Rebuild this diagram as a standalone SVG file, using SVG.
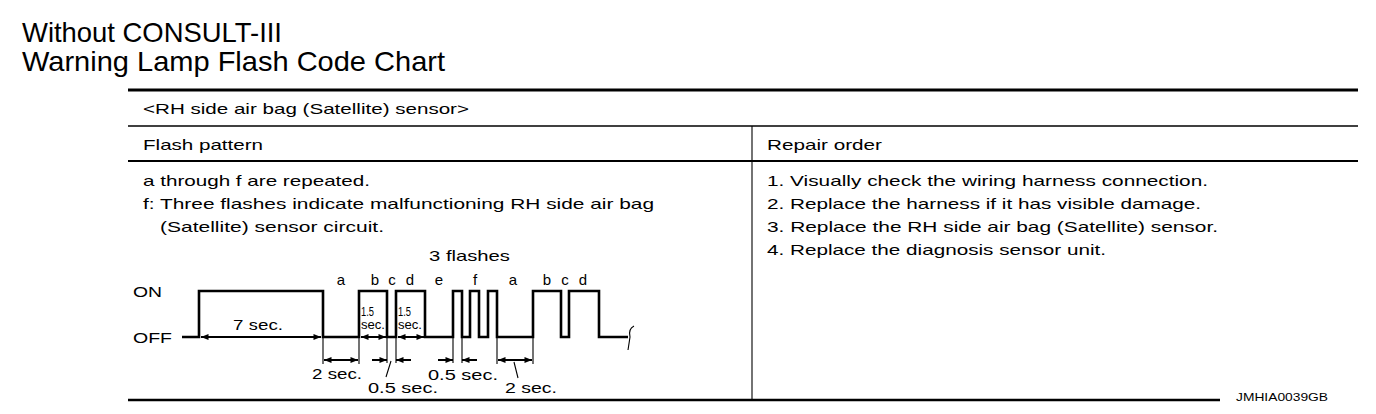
<svg xmlns="http://www.w3.org/2000/svg" width="1376" height="414" viewBox="0 0 1376 414">
<defs>
<style>
text{font-family:"Liberation Sans",Arial,Helvetica,sans-serif;fill:#000}
.title{font-size:28px}
.t{font-size:15px}
.s{font-size:11px}
.b{font-size:13px}
.rule{stroke:#000;fill:none}
.wave{stroke:#000;stroke-width:2.6;fill:none;stroke-linejoin:miter}
.ext{stroke:#000;stroke-width:1.1;fill:none}
.dim{stroke:#000;stroke-width:2;fill:none;marker-start:url(#as);marker-end:url(#ah)}
.dim1{stroke:#000;stroke-width:2;fill:none;marker-end:url(#ah)}
</style>
<marker id="ah" viewBox="0 0 10 8" refX="10" refY="4" markerWidth="9" markerHeight="6" markerUnits="userSpaceOnUse" orient="auto">
<path d="M0,0 L10,4 L0,8 Z" fill="#000"/>
</marker>
<marker id="as" viewBox="0 0 10 8" refX="0" refY="4" markerWidth="9" markerHeight="6" markerUnits="userSpaceOnUse" orient="auto">
<path d="M10,0 L0,4 L10,8 Z" fill="#000"/>
</marker>
</defs>
<rect width="1376" height="414" fill="#fff"/>

<g id="title">
<text class="title" x="22" y="42" textLength="260" lengthAdjust="spacingAndGlyphs">Without CONSULT-III</text>
<text class="title" x="22" y="71" textLength="423" lengthAdjust="spacingAndGlyphs">Warning Lamp Flash Code Chart</text>
</g>

<g id="table">
<line class="rule" x1="128" y1="90" x2="1358" y2="90" stroke-width="2.8"/>
<line class="rule" x1="128" y1="126" x2="1358" y2="126" stroke-width="1.3"/>
<line class="rule" x1="128" y1="161" x2="1358" y2="161" stroke-width="2.2"/>
<line class="rule" x1="752" y1="126" x2="752" y2="400" stroke-width="1.1"/>
<line class="rule" x1="128" y1="400" x2="1220" y2="400" stroke-width="2.6"/>
</g>

<g id="table-text">
<text class="t" x="143" y="114" textLength="326" lengthAdjust="spacingAndGlyphs">&lt;RH side air bag (Satellite) sensor&gt;</text>
<text class="t" x="143" y="150" textLength="120" lengthAdjust="spacingAndGlyphs">Flash pattern</text>
<text class="t" x="767" y="150" textLength="115" lengthAdjust="spacingAndGlyphs">Repair order</text>
<text class="t" x="143" y="186" textLength="227" lengthAdjust="spacingAndGlyphs">a through f are repeated.</text>
<text class="t" x="143" y="209" textLength="511" lengthAdjust="spacingAndGlyphs">f: Three flashes indicate malfunctioning RH side air bag</text>
<text class="t" x="160" y="232" textLength="224" lengthAdjust="spacingAndGlyphs">(Satellite) sensor circuit.</text>
<text class="t" x="767" y="186" textLength="441" lengthAdjust="spacingAndGlyphs">1. Visually check the wiring harness connection.</text>
<text class="t" x="767" y="209" textLength="434" lengthAdjust="spacingAndGlyphs">2. Replace the harness if it has visible damage.</text>
<text class="t" x="767" y="232" textLength="451" lengthAdjust="spacingAndGlyphs">3. Replace the RH side air bag (Satellite) sensor.</text>
<text class="t" x="767" y="255" textLength="339" lengthAdjust="spacingAndGlyphs">4. Replace the diagnosis sensor unit.</text>
<text class="s" x="1236" y="401" textLength="92" lengthAdjust="spacingAndGlyphs">JMHIA0039GB</text>
</g>

<g id="waveform">
<text class="t" x="133" y="297" textLength="29" lengthAdjust="spacingAndGlyphs">ON</text>
<text class="t" x="133" y="343" textLength="39" lengthAdjust="spacingAndGlyphs">OFF</text>
<text class="t" x="429" y="261" textLength="81" lengthAdjust="spacingAndGlyphs">3 flashes</text>
<g text-anchor="middle">
<text class="t" x="341" y="285">a</text>
<text class="t" x="375" y="285">b</text>
<text class="t" x="392" y="285">c</text>
<text class="t" x="410" y="285">d</text>
<text class="t" x="439" y="285">e</text>
<text class="t" x="475" y="285">f</text>
<text class="t" x="513" y="285">a</text>
<text class="t" x="547" y="285">b</text>
<text class="t" x="565" y="285">c</text>
<text class="t" x="583" y="285">d</text>
</g>
<path class="wave" d="M182,337 H199 V291 H323 V337 H359 V291 H387 V337 H396 V291 H425 V337 H453 V291 H462 V337 H470 V291 H479 V337 H488 V291 H497 V337 H533 V291 H561 V337 H569 V291 H599 V337 H628"/>
<path class="ext" stroke-width="1.8" d="M634,326 Q628,329 630,337 L628,350"/>
<text class="t" x="233" y="330" textLength="50" lengthAdjust="spacingAndGlyphs">7 sec.</text>
<text class="b" x="361" y="316" textLength="13" lengthAdjust="spacingAndGlyphs">1.5</text>
<text class="b" x="361" y="329" textLength="24" lengthAdjust="spacingAndGlyphs">sec.</text>
<text class="b" x="398" y="316" textLength="13" lengthAdjust="spacingAndGlyphs">1.5</text>
<text class="b" x="398" y="329" textLength="24" lengthAdjust="spacingAndGlyphs">sec.</text>
</g>

<g id="dimensions">
<line class="dim" x1="201" y1="337" x2="321" y2="337"/>
<line class="dim" x1="361" y1="337" x2="386" y2="337"/>
<line class="dim" x1="398" y1="337" x2="424" y2="337"/>

<path class="ext" d="M323,337 V364 M359,337 V364 M387,337 V363 M396,337 V363 M453,337 V363 M462,337 V363 M497,337 V364 M533,337 V364"/>
<line class="dim" x1="324" y1="360" x2="358" y2="360"/>
<line class="dim1" x1="372" y1="360" x2="387" y2="360"/>
<line class="dim1" x1="411" y1="360" x2="396" y2="360"/>
<line class="dim1" x1="438" y1="360" x2="453" y2="360"/>
<line class="dim1" x1="477" y1="360" x2="462" y2="360"/>
<line class="dim" x1="498" y1="360" x2="532" y2="360"/>
<path class="ext" d="M391,361 L386,377 M514,362 L518,378"/>

<text class="t" x="312" y="379" textLength="50" lengthAdjust="spacingAndGlyphs">2 sec.</text>
<text class="t" x="368" y="393" textLength="70" lengthAdjust="spacingAndGlyphs">0.5 sec.</text>
<text class="t" x="428" y="380" textLength="70" lengthAdjust="spacingAndGlyphs">0.5 sec.</text>
<text class="t" x="505" y="393" textLength="52" lengthAdjust="spacingAndGlyphs">2 sec.</text>
</g>
</svg>
